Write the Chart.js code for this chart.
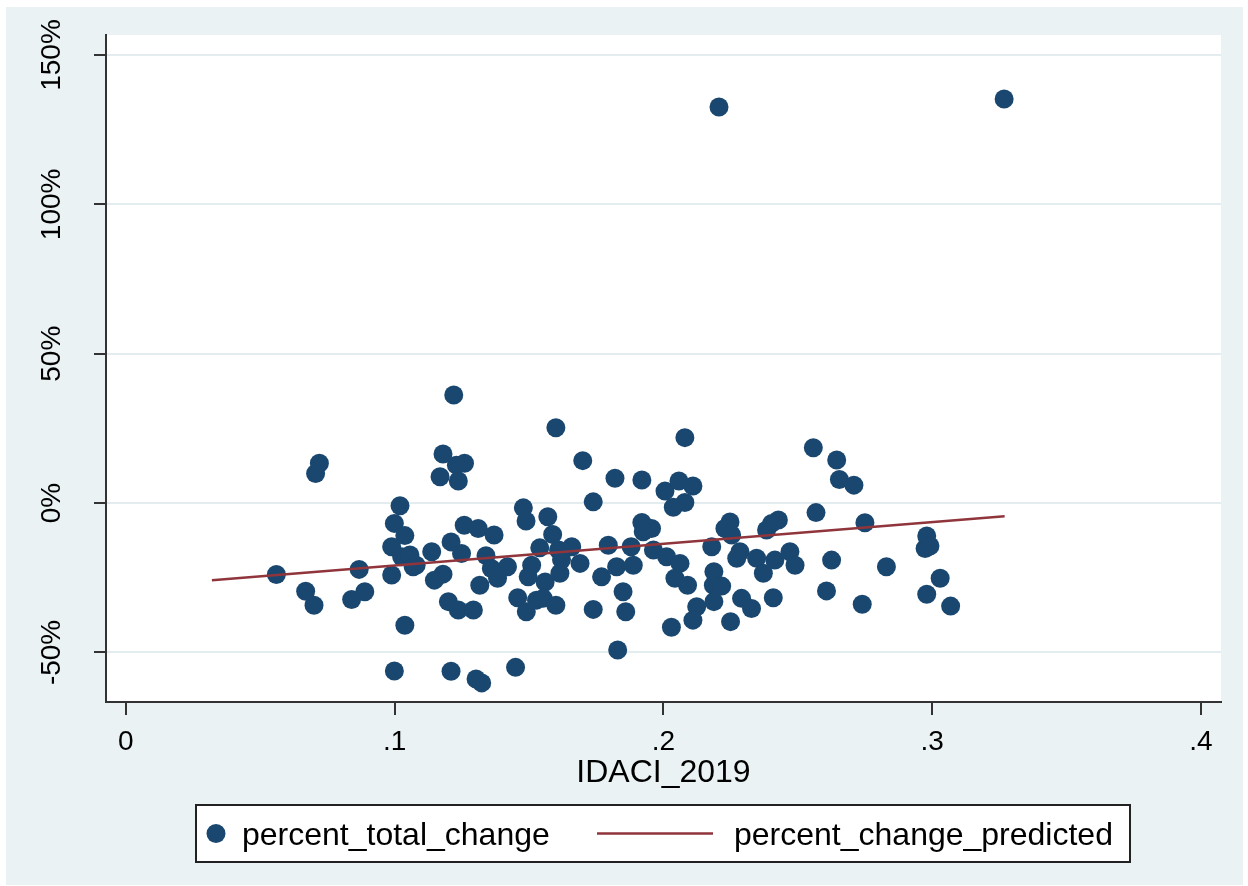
<!DOCTYPE html>
<html>
<head>
<meta charset="utf-8">
<title>percent_total_change vs IDACI_2019</title>
<script src="https://cdn.jsdelivr.net/npm/chart.js@4.4.1/dist/chart.umd.min.js"></script>
<style>
  html, body { margin: 0; padding: 0; background: #ffffff; }
  #wrap { width: 1248px; height: 886px; position: relative; }
</style>
</head>
<body>
<div id="wrap"><canvas id="chart" width="1248" height="886"></canvas></div>
<script>
// IDACI 2019 score per area and its total percent change
const idaci = [
  0.072, 0.0706, 0.056, 0.0669, 0.070, 0.0868, 0.084, 0.0889, 0.102, 0.0999,
  0.1038, 0.0989, 0.1026, 0.1057, 0.1069, 0.0989, 0.1038, 0.0999, 0.122, 0.160,
  0.118, 0.126, 0.123, 0.1169, 0.1237, 0.1479, 0.1489, 0.157, 0.1588, 0.1259,
  0.1311, 0.137, 0.121, 0.1138, 0.108, 0.1249, 0.134, 0.136, 0.142, 0.1383,
  0.118, 0.1148, 0.1317, 0.154, 0.151, 0.1497, 0.156, 0.161, 0.1615, 0.1458,
  0.149, 0.1528, 0.1553, 0.160, 0.120, 0.1237, 0.1293, 0.121, 0.1303, 0.1324,
  0.145, 0.208, 0.170, 0.182, 0.192, 0.2006, 0.2058, 0.211, 0.208, 0.2037,
  0.1739, 0.192, 0.1956, 0.1925, 0.1659, 0.1795, 0.188, 0.1963, 0.2012, 0.2062,
  0.1621, 0.169, 0.1826, 0.1888, 0.177, 0.2043, 0.209, 0.185, 0.1739, 0.186,
  0.203, 0.2124, 0.211, 0.183, 0.2558, 0.2645, 0.2655, 0.2709, 0.2568, 0.2248,
  0.2229, 0.2254, 0.2428, 0.2403, 0.2384, 0.218, 0.2285, 0.2273, 0.2347, 0.2415,
  0.2471, 0.249, 0.2372, 0.2626, 0.2188, 0.2186, 0.2217, 0.2188, 0.2291, 0.2328,
  0.2409, 0.2607, 0.225, 0.275, 0.298, 0.2974, 0.2992, 0.283, 0.303, 0.298,
  0.274, 0.3069, 0.2207, 0.3268
];
const percentTotalChange = [
  13.3, 9.9, -23.9, -29.5, -34.2, -22.2, -32.3, -29.7, -0.9, -6.8,
  -10.9, -14.6, -18.0, -17.4, -21.3, -24.1, -40.9, -56.2, 36.2, 25.2,
  16.4, 13.3, 12.7, 8.8, 7.4, -1.6, -6.0, -4.6, -10.5, -7.4,
  -8.5, -10.7, -13.0, -16.3, -20.8, -16.9, -17.6, -21.9, -21.3, -25.2,
  -23.8, -25.8, -27.5, -15.0, -20.8, -24.7, -26.4, -15.7, -23.5, -31.7,
  -36.4, -32.5, -31.9, -34.2, -33.0, -35.8, -35.8, -56.3, -58.9, -60.2,
  -55.0, 21.9, 14.2, 8.3, 7.7, 4.0, 7.4, 5.7, 0.2, -1.4,
  0.4, -6.5, -8.5, -9.6, -14.6, -14.1, -14.6, -15.7, -18.0, -20.2,
  -19.0, -20.2, -21.3, -20.8, -24.7, -25.2, -27.5, -29.7, -35.6, -36.4,
  -41.6, -34.7, -39.2, -49.2, 18.5, 14.4, 7.9, 6.0, -3.2, -6.3,
  -8.5, -10.7, -5.7, -6.8, -9.0, -14.6, -16.3, -18.5, -18.5, -19.1,
  -16.3, -20.8, -23.5, -19.1, -23.0, -27.5, -27.8, -33.0, -31.9, -35.3,
  -31.7, -29.4, -39.7, -6.6, -11.0, -15.2, -14.4, -21.3, -25.2, -30.5,
  -33.9, -34.5, 132.6, 135.3
];
// Fitted line end points (lowest and highest IDACI in the sample)
const predictedX = [0.032, 0.327];
const predictedY = [-25.8, -4.4];

const xTicks = [0, 0.1, 0.2, 0.3, 0.4];
const xTickLabels = ['0', '.1', '.2', '.3', '.4'];
const yTicks = [-50, 0, 50, 100, 150];
const yTickLabels = ['-50%', '0%', '50%', '100%', '150%'];
const xTitle = 'IDACI_2019';
const seriesNames = ['percent_total_change', 'percent_change_predicted'];

const NAVY = '#1a476f';
const MAROON = '#90353b';
const BG = '#eaf2f3';
const GRID = '#e3ecee';
const AXIS = '#333333';
const FONT = '"Liberation Sans", Arial, sans-serif';

const scatterPoints = idaci.map((x, i) => ({ x: x, y: percentTotalChange[i] }));
const linePoints = predictedX.map((x, i) => ({ x: x, y: predictedY[i] }));

// Background, plot region, tick labels, title and legend
const frame = {
  id: 'frame',
  beforeDraw(chart) {
    const ctx = chart.ctx;
    const a = chart.chartArea;
    ctx.save();
    ctx.fillStyle = '#ffffff';
    ctx.fillRect(0, 0, chart.width, chart.height);
    ctx.fillStyle = BG;
    ctx.fillRect(6, 7, 1237, 878);
    ctx.fillStyle = '#ffffff';
    ctx.fillRect(a.left, a.top, a.right - a.left, a.bottom - a.top);
    ctx.restore();
  },
  afterDraw(chart) {
    const ctx = chart.ctx;
    const xs = chart.scales.x;
    const ys = chart.scales.y;
    const a = chart.chartArea;
    ctx.save();
    ctx.fillStyle = '#000000';
    // x tick labels
    ctx.font = '28px ' + FONT;
    ctx.textAlign = 'center';
    ctx.textBaseline = 'alphabetic';
    xTicks.forEach((v, i) => {
      ctx.fillText(xTickLabels[i], xs.getPixelForValue(v), 750);
    });
    // y tick labels, rotated
    yTicks.forEach((v, i) => {
      ctx.save();
      ctx.translate(60, ys.getPixelForValue(v));
      ctx.rotate(-Math.PI / 2);
      ctx.fillText(yTickLabels[i], 0, 0);
      ctx.restore();
    });
    // x axis title
    ctx.font = '32px ' + FONT;
    ctx.fillText(xTitle, (a.left + a.right) / 2, 782);

    // legend
    const lx = 196, ly = 805, lw = 934, lh = 57;
    ctx.fillStyle = '#ffffff';
    ctx.fillRect(lx, ly, lw, lh);
    ctx.strokeStyle = '#222222';
    ctx.lineWidth = 2;
    ctx.strokeRect(lx, ly, lw, lh);
    const cy = ly + lh / 2;
    ctx.fillStyle = NAVY;
    ctx.beginPath();
    ctx.arc(216, cy, 9.5, 0, Math.PI * 2);
    ctx.fill();
    ctx.strokeStyle = MAROON;
    ctx.lineWidth = 2.5;
    ctx.beginPath();
    ctx.moveTo(597, cy);
    ctx.lineTo(713, cy);
    ctx.stroke();
    ctx.fillStyle = '#000000';
    ctx.textAlign = 'left';
    ctx.font = '32px ' + FONT;
    ctx.fillText(seriesNames[0], 242, 845);
    ctx.fillText(seriesNames[1], 734, 845);
    ctx.restore();
  }
};

new Chart(document.getElementById('chart'), {
  type: 'scatter',
  data: {
    datasets: [
      {
        type: 'line',
        label: seriesNames[1],
        data: linePoints,
        borderColor: MAROON,
        borderWidth: 2.5,
        pointRadius: 0,
        fill: false,
        order: 0
      },
      {
        label: seriesNames[0],
        data: scatterPoints,
        backgroundColor: NAVY,
        borderWidth: 0,
        pointRadius: 9.5,
        order: 1
      }
    ]
  },
  options: {
    responsive: false,
    animation: false,
    events: [],
    layout: { padding: { left: 0, top: 35, right: 27, bottom: 0 } },
    plugins: {
      legend: { display: false },
      tooltip: { enabled: false },
      title: { display: false }
    },
    scales: {
      x: {
        type: 'linear',
        min: -0.0074,
        max: 0.4075,
        afterBuildTicks(scale) { scale.ticks = xTicks.map(v => ({ value: v })); },
        afterFit(scale) { scale.height = 184; },
        ticks: { display: false },
        grid: {
          drawOnChartArea: false,
          drawTicks: true,
          tickLength: 13,
          tickColor: AXIS,
          lineWidth: 2
        },
        border: { display: true, color: AXIS, width: 2 }
      },
      y: {
        type: 'linear',
        min: -66.6,
        max: 156.7,
        afterBuildTicks(scale) { scale.ticks = yTicks.map(v => ({ value: v })); },
        afterFit(scale) { scale.width = 106; },
        ticks: { display: false },
        grid: {
          color: GRID,
          lineWidth: 2,
          drawTicks: true,
          tickLength: 12,
          tickColor: AXIS,
          tickWidth: 2
        },
        border: { display: true, color: AXIS, width: 2 }
      }
    }
  },
  plugins: [frame]
});
</script>
</body>
</html>
